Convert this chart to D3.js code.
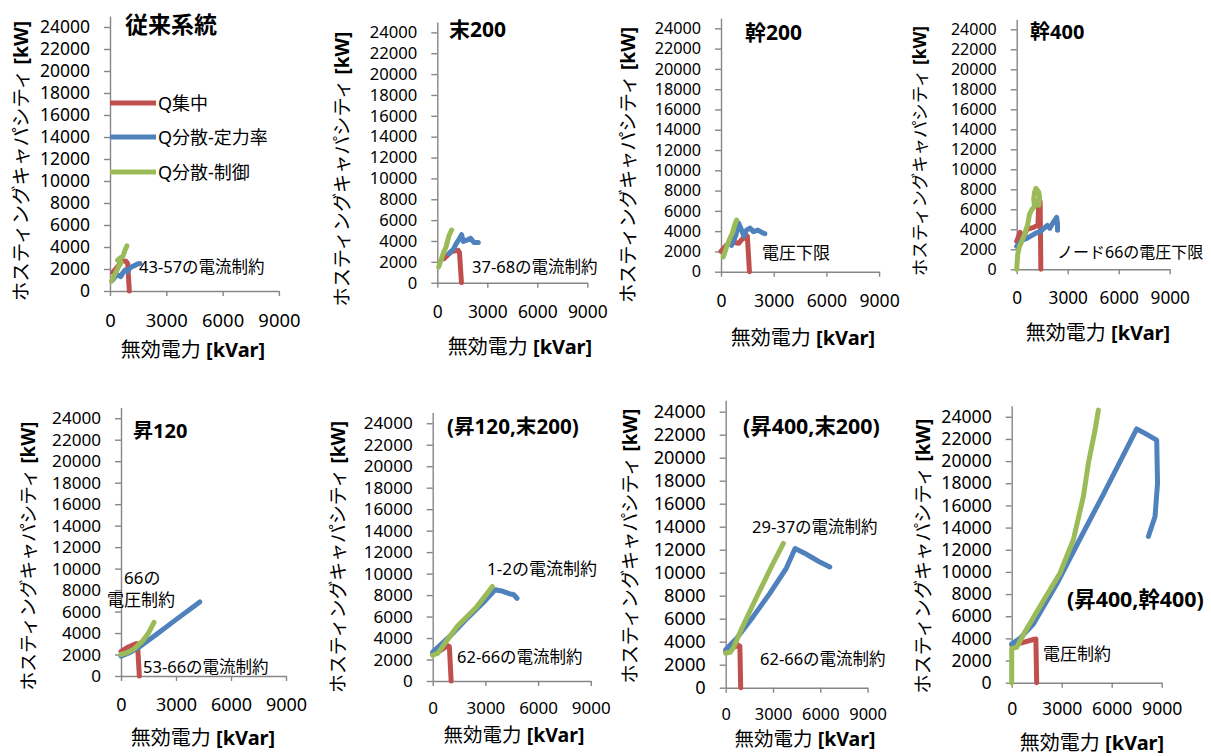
<!DOCTYPE html>
<html><head><meta charset="utf-8">
<script src="https://cdn.jsdelivr.net/npm/d3@7"></script>
<style>
body{margin:0;background:#fff}
svg{display:block}
text{font-family:"Noto Sans","Noto Sans CJK JP",sans-serif;fill:#000}
</style>
</head><body>
<svg id="chart" width="1211" height="756"></svg>
<script>
// ---------- tick labels / categories ----------
const xTicks = [0, 3000, 6000, 9000];
const yTicks = [0, 2000, 4000, 6000, 8000, 10000, 12000, 14000, 16000, 18000, 20000, 22000, 24000];
const seriesNames = ["Q集中", "Q分散-定力率", "Q分散-制御"];
const panelTitles = ["従来系統", "末200", "幹200", "幹400", "昇120", "(昇120,末200)", "(昇400,末200)", "(昇400,幹400)"];
const yAxisTitle = "ホスティングキャパシティ";
const yAxisUnit = " [kW]";
const xAxisTitle = "無効電力";
const xAxisUnit = " [kVar]";
const panelNotes = [
  ["43-57の電流制約"],
  ["37-68の電流制約"],
  ["電圧下限"],
  ["ノード66の電圧下限"],
  ["66の", "電圧制約", "53-66の電流制約"],
  ["1-2の電流制約", "62-66の電流制約"],
  ["29-37の電流制約", "62-66の電流制約"],
  ["電圧制約"]
];

// ---------- series values [無効電力 kVar, ホスティングキャパシティ kW] ----------
// 従来系統
const p1Red   = [[150,1700],[450,2300],[620,2750],[850,2700],[940,2500],[1030,0]];
const p1Blue  = [[140,1000],[300,1350],[440,1450],[570,1300],[700,1700],[800,1900],[920,1750],[1050,2050],[1150,2200],[1300,2300],[1460,2450],[1600,2500]];
const p1Green = [[80,900],[250,1500],[450,2200],[600,2600],[400,2800],[550,3000],[700,3200],[800,3700],[900,4100]];
// 末200
const p2Red   = [[400,2300],[860,3000],[1250,3100],[1330,2900],[1450,0]];
const p2Blue  = [[700,2800],[960,3200],[1120,3700],[1320,4200],[1460,4600],[1560,3950],[1800,4100],[2000,4250],[2200,3850],[2460,3850]];
const p2Green = [[80,1500],[250,2300],[400,3000],[520,3400],[600,3900],[700,4500],[860,5050]];
// 幹200
const p3Red   = [[0,2000],[300,2600],[700,2900],[1000,2800],[1200,3200],[1500,3500],[1620,0]];
const p3Blue  = [[600,2600],[850,3600],[1000,4800],[1150,4200],[1300,3500],[1450,4100],[1650,4300],[1850,3950],[2100,4100],[2400,3800],[2500,3750]];
const p3Green = [[130,1450],[320,2450],[510,3300],[650,3800],[760,4500],[890,5100]];
// 幹400
const p4Red   = [[0,2800],[200,3700],[400,3200],[600,4000],[1000,4200],[1250,4400],[1300,7000],[1380,6800],[1420,0]];
const p4Blue  = [[0,2300],[300,2900],[600,3100],[900,3400],[1100,3600],[1400,3800],[1600,4100],[1800,4400],[1950,4100],[2150,4700],[2350,5200],[2400,4600],[2400,3900]];
const p4Green = [[0,0],[60,1500],[150,2200],[350,3000],[500,3700],[650,4500],[750,5500],[900,6000],[1050,6300],[1000,7000],[1050,7700],[1130,8100],[1300,7700],[1350,7200],[1300,6400]];
// 昇120
const p5Red   = [[0,2300],[400,2700],[800,3000],[900,3000],[1000,0]];
const p5Blue  = [[0,1850],[500,2200],[1000,2700],[2000,3950],[3000,5250],[4300,6900]];
const p5Green = [[0,2000],[300,2150],[700,2500],[1200,3300],[1500,4000],[1800,5000]];
// (昇120,末200)
const p6Red   = [[0,2500],[400,2800],[850,3300],[950,3200],[1050,0]];
const p6Blue  = [[0,2700],[1000,4200],[2000,5900],[3000,7500],[3550,8500],[4000,8350],[4400,8100],[4600,8050],[4800,7700]];
const p6Green = [[0,2400],[300,2600],[600,3300],[1400,5100],[2500,6900],[3400,8800]];
// (昇400,末200)
const p7Red   = [[0,3100],[500,3500],[800,3700],[900,3600],[950,0]];
const p7Blue  = [[0,3300],[700,4300],[1750,6200],[2800,8200],[3850,10400],[4400,12100],[5000,11700],[5500,11300],[6000,10900],[6600,10500]];
const p7Green = [[0,3000],[300,3100],[500,3500],[1000,5100],[2000,8000],[3000,10800],[3660,12550]];
// (昇400,幹400)
const p8Red   = [[0,3400],[600,3600],[1300,3900],[1450,3950],[1500,0]];
const p8Blue  = [[0,3500],[500,4000],[1300,5300],[2700,8900],[4000,12700],[5500,17000],[7500,22900],[8000,22500],[8700,21900],[8750,18000],[8600,15000],[8200,13200]];
const p8Green = [[0,0],[0,3100],[300,3200],[800,4600],[1700,6900],[2900,9900],[3700,12900],[4300,16800],[4600,19800],[5000,22800],[5200,24600]];

const panelSeries = [
  [p1Red,p1Blue,p1Green],[p2Red,p2Blue,p2Green],[p3Red,p3Blue,p3Green],[p4Red,p4Blue,p4Green],
  [p5Red,p5Blue,p5Green],[p6Red,p6Blue,p6Green],[p7Red,p7Blue,p7Green],[p8Red,p8Blue,p8Green]
];

// ---------- layout / style ----------
const colors = ["#C0504D", "#4F81BD", "#9BBB59"];
const axisColor = "#868686";
const layout = [
  {ox:110,   oy:291,   ky:11.0,  kx:56.3, tfs:17.5, xfs:18.4, xlab:30,   title:{x:125,y:24,fs:23},    yt:{x:20,y:161,fs:19.5}, xt:{x:193,y:349,fs:20},  notes:[{x:139,y:266,fs:16.5}]},
  {ox:437.3, oy:282.7, ky:10.43, kx:50,   tfs:16.6, xfs:17.4, xlab:29.3, title:{x:449,y:29,fs:21},    yt:{x:342,y:169,fs:19.1}, xt:{x:520,y:346,fs:20},  notes:[{x:472,y:266,fs:16.5}]},
  {ox:721,   oy:271.7, ky:10.14, kx:52.7, tfs:16.2, xfs:17.6, xlab:29.3, title:{x:745,y:32,fs:21},    yt:{x:627,y:165,fs:19.2}, xt:{x:803,y:337,fs:20},  notes:[{x:762,y:252,fs:17}]},
  {ox:1016.7,oy:269.3, ky:10.0,  kx:51,   tfs:16,   xfs:17.2, xlab:28.7, title:{x:1030,y:31,fs:20},   yt:{x:919,y:151,fs:17.4}, xt:{x:1098,y:332,fs:20}, notes:[{x:1057,y:252,fs:16}]},
  {ox:121,   oy:676,   ky:10.74, kx:55,   tfs:17.1, xfs:18,   xlab:29,   title:{x:133,y:430,fs:20},   yt:{x:27,y:556,fs:18.7},  xt:{x:203,y:737,fs:20},  notes:[{x:124,y:577,fs:17},{x:107,y:599,fs:17},{x:143,y:666,fs:16.5}]},
  {ox:432.7, oy:681,   ky:10.74, kx:52.7, tfs:17.1, xfs:17,   xlab:27.5, title:{x:447,y:426,fs:20.6}, yt:{x:338,y:557,fs:18.9}, xt:{x:514,y:733.5,fs:19.5},  notes:[{x:487,y:568,fs:17},{x:457,y:656,fs:16.5}]},
  {ox:725.7, oy:687.7, ky:11.5,  kx:47.3, tfs:18.2, xfs:16.4, xlab:26.5, title:{x:743,y:425,fs:21.4}, yt:{x:630,y:546,fs:19.1}, xt:{x:805,y:738,fs:19.5},  notes:[{x:752,y:526,fs:16.5},{x:760,y:658,fs:16.5}]},
  {ox:1011.7,oy:682.7, ky:11.08, kx:50,   tfs:17.6, xfs:17.6, xlab:26.3, title:{x:1067,y:598,fs:21.4},yt:{x:923,y:556,fs:19.1}, xt:{x:1092,y:742,fs:20}, notes:[{x:1043,y:653,fs:17}]}
];
const legendLayout = {x1:110, x2:156, tx:158, ys:[103,137,172], fs:18};

const svg = d3.select("#chart");
svg.append("rect").attr("width",1211).attr("height",756).attr("fill","#fff");

layout.forEach((L, i) => {
  const x = d3.scaleLinear().domain([0, 9000]).range([L.ox, L.ox + 3 * L.kx]);
  const y = d3.scaleLinear().domain([0, 25000]).range([L.oy, L.oy - 25 * L.ky]);
  const g = svg.append("g");

  const ya = g.append("g").attr("transform", `translate(${L.ox},0)`)
    .call(d3.axisLeft(y).tickValues(yTicks).tickSize(6).tickSizeOuter(0).tickPadding(14).tickFormat(d3.format("d")));
  const xa = g.append("g").attr("transform", `translate(0,${L.oy})`)
    .call(d3.axisBottom(x).tickValues(xTicks).tickSize(5).tickSizeOuter(0).tickFormat(d3.format("d")));
  [ya, xa].forEach(a => {
    a.select(".domain").attr("stroke", axisColor).attr("stroke-width", 1.4);
    a.selectAll(".tick line").attr("stroke", axisColor).attr("stroke-width", 1.4);
    a.selectAll("text").attr("font-family", '"Noto Sans","Noto Sans CJK JP",sans-serif').attr("fill", "#000");
  });
  ya.selectAll("text").attr("font-size", L.tfs);
  xa.selectAll("text").attr("font-size", L.xfs);
  xa.selectAll(".tick text").attr("y", L.xlab).attr("dy", "0.35em");

  const line = d3.line().x(d => x(d[0])).y(d => y(d[1]));
  panelSeries[i].forEach((s, k) => {
    g.append("path").datum(s).attr("d", line)
      .attr("fill", "none").attr("stroke", colors[k]).attr("stroke-width", 5)
      .attr("stroke-linejoin", "round").attr("stroke-linecap", "round");
  });

  g.append("text").attr("x", L.title.x).attr("y", L.title.y)
    .attr("dominant-baseline", "central").attr("font-weight", "bold")
    .attr("font-size", L.title.fs).text(panelTitles[i]);

  const yt = g.append("text")
    .attr("transform", `translate(${L.yt.x},${L.yt.y}) rotate(-90)`)
    .attr("text-anchor", "middle").attr("dominant-baseline", "central")
    .attr("font-size", L.yt.fs);
  yt.append("tspan").text(yAxisTitle);
  yt.append("tspan").attr("font-weight", "bold").text(yAxisUnit);

  const xt = g.append("text").attr("x", L.xt.x).attr("y", L.xt.y)
    .attr("text-anchor", "middle").attr("dominant-baseline", "central").attr("font-size", L.xt.fs);
  xt.append("tspan").text(xAxisTitle);
  xt.append("tspan").attr("font-weight", "bold").text(xAxisUnit);

  panelNotes[i].forEach((t, j) => {
    const n = L.notes[j];
    g.append("text").attr("x", n.x).attr("y", n.y).attr("dominant-baseline", "central")
      .attr("font-size", n.fs).text(t);
  });

  if (i === 0) {
    seriesNames.forEach((name, k) => {
      const ly = legendLayout.ys[k];
      g.append("line").attr("x1", legendLayout.x1).attr("x2", legendLayout.x2)
        .attr("y1", ly).attr("y2", ly).attr("stroke", colors[k]).attr("stroke-width", 5);
      g.append("text").attr("x", legendLayout.tx).attr("y", ly).attr("dominant-baseline", "central")
        .attr("font-size", legendLayout.fs).text(name);
    });
  }
});
</script>
</body></html>
